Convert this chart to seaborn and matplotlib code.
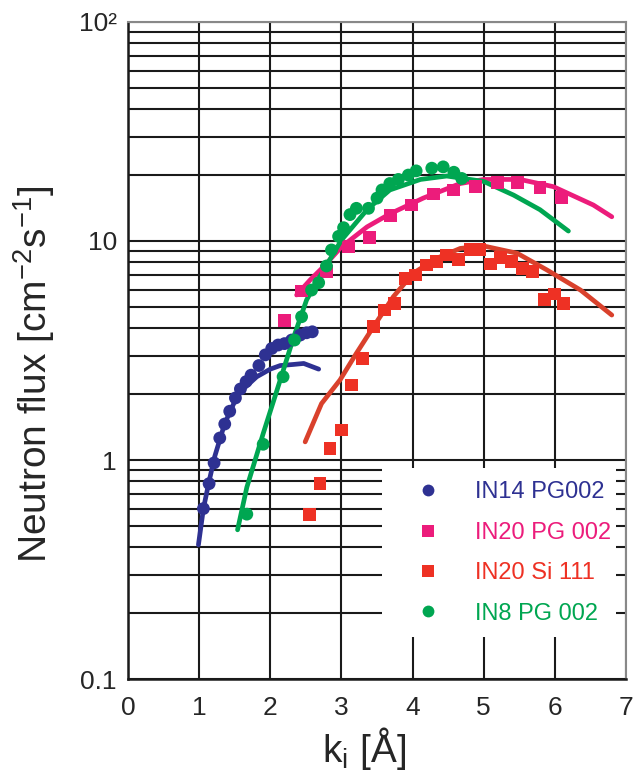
import seaborn as sns
import pandas as pd
import matplotlib.pyplot as plt
from matplotlib.lines import Line2D
from matplotlib.patches import Rectangle
from matplotlib.ticker import LogLocator, FixedLocator, FixedFormatter, NullFormatter

# IN14 PG002 - puntos medidos
in14_k = [1.06, 1.14, 1.21, 1.29, 1.36, 1.43, 1.51, 1.58, 1.66, 1.73, 1.84, 1.93,
          2.02, 2.11, 2.20, 2.30, 2.42, 2.51, 2.59]
in14_flux = [0.60, 0.78, 0.97, 1.26, 1.46, 1.67, 1.92, 2.11, 2.28, 2.44, 2.70, 3.02,
             3.23, 3.35, 3.40, 3.53, 3.72, 3.81, 3.85]
# IN14 - curva calculada
in14_fit_k = [0.99, 1.06, 1.14, 1.22, 1.36, 1.55, 1.81, 2.00, 2.14, 2.32, 2.47, 2.68]
in14_fit_flux = [0.41, 0.60, 0.80, 1.04, 1.47, 2.01, 2.40, 2.60, 2.70, 2.73, 2.76, 2.60]

# IN20 PG 002
in20pg_k = [2.20, 2.44, 2.79, 3.10, 3.39, 3.69, 3.99, 4.29, 4.58, 4.88, 5.19, 5.48,
            5.79, 6.09]
in20pg_flux = [4.33, 5.91, 7.24, 9.42, 10.4, 13.1, 14.6, 16.4, 17.1, 17.7, 18.5, 18.5,
               17.6, 15.8]
in20pg_fit_k = [2.37, 2.56, 2.75, 3.00, 3.36, 3.68, 4.15, 4.67, 5.00, 5.51, 5.98, 6.54, 6.80]
in20pg_fit_flux = [5.67, 6.64, 7.64, 9.4, 11.6, 13.3, 15.7, 18.3, 19.1, 19.1, 17.7, 14.6, 12.9]

# IN20 Si 111
in20si_k = [2.55, 2.70, 2.84, 3.00, 3.14, 3.30, 3.45, 3.60, 3.75, 3.90, 4.04, 4.20,
            4.34, 4.48, 4.65, 4.81, 4.94, 5.09, 5.24, 5.39, 5.55, 5.69, 5.85, 5.99, 6.12]
in20si_flux = [0.566, 0.78, 1.13, 1.37, 2.20, 2.91, 4.06, 4.84, 5.19, 6.76, 7.0, 7.77,
               8.05, 8.63, 8.25, 9.16, 9.16, 7.85, 8.42, 8.05, 7.5, 7.24, 5.42, 5.73, 5.19]
in20si_fit_k = [2.49, 2.72, 2.98, 3.21, 3.45, 3.73, 4.01, 4.34, 4.67, 5.00, 5.47, 5.89,
                6.36, 6.80]
in20si_fit_flux = [1.21, 1.81, 2.32, 3.07, 4.06, 5.57, 7.13, 8.34, 9.25, 9.49, 8.79, 7.37,
                   5.97, 4.59]

# IN8 PG 002
in8_k = [1.67, 1.90, 2.18, 2.34, 2.44, 2.58, 2.68, 2.79, 2.86, 2.96, 3.03, 3.12, 3.21,
         3.38, 3.50, 3.57, 3.68, 3.80, 3.94, 4.05, 4.27, 4.43, 4.58, 4.69]
in8_flux = [0.566, 1.18, 2.40, 3.53, 4.51, 5.97, 6.45, 7.69, 9.1, 10.5, 11.5, 13.2, 14.1,
            14.1, 15.7, 17.1, 18.3, 19.1, 20.0, 20.9, 21.5, 21.8, 20.6, 19.3]
in8_fit_k = [1.54, 1.67, 1.90, 2.14, 2.33, 2.51, 2.75, 3.00, 3.36, 3.68, 4.11, 4.48, 5.00,
             5.42, 5.79, 6.19]
in8_fit_flux = [0.48, 0.75, 1.32, 2.32, 3.65, 5.38, 7.37, 10.1, 13.9, 17.1, 19.1, 19.8,
                18.7, 16.2, 13.9, 11.1]

series = [
    ("IN14 PG002", in14_k, in14_flux, in14_fit_k, in14_fit_flux, "o", "#2e3192", "#2e3192"),
    ("IN20 PG 002", in20pg_k, in20pg_flux, in20pg_fit_k, in20pg_fit_flux, "s", "#ec1c7b", "#ec1c7b"),
    ("IN20 Si 111", in20si_k, in20si_flux, in20si_fit_k, in20si_fit_flux, "s", "#ee3124", "#d9412c"),
    ("IN8 PG 002", in8_k, in8_flux, in8_fit_k, in8_fit_flux, "o", "#00a651", "#00a651"),
]

sns.set_style("white")
plt.rcParams['font.family'] = ['Liberation Sans', 'DejaVu Sans']
plt.rcParams['mathtext.default'] = 'regular'

fig = plt.figure(figsize=(6.33, 7.77), dpi=100)
ax = fig.add_axes([0.2022, 0.1261, 0.7868, 0.8456])

for nombre, k, f, kf, ff, marca, color, color_linea in series:
    df_fit = pd.DataFrame({'k': kf, 'flux': ff})
    sns.lineplot(data=df_fit, x='k', y='flux', color=color_linea, lw=3.4,
                 sort=False, estimator=None, ax=ax, zorder=3)
for nombre, k, f, kf, ff, marca, color, color_linea in series:
    df = pd.DataFrame({'k': k, 'flux': f})
    sns.scatterplot(data=df, x='k', y='flux', marker=marca, color=color, s=85,
                    edgecolor='none', linewidth=0, ax=ax, zorder=4)

ax.set_yscale('log')
ax.set_xlim(0, 7)
ax.set_ylim(0.1, 100)

ax.xaxis.set_major_locator(FixedLocator(range(8)))
ax.yaxis.set_major_locator(FixedLocator([0.1, 1, 10, 100]))
ax.yaxis.set_major_formatter(FixedFormatter(['0.1', '1', '10', '10²']))
ax.yaxis.set_minor_locator(LogLocator(base=10, subs=range(2, 10)))
ax.yaxis.set_minor_formatter(NullFormatter())

ax.grid(True, which='both', axis='both', color='#1a1a1a', lw=1.5)
ax.tick_params(axis='both', which='both', length=0, labelsize=19, pad=8)
ax.tick_params(axis='x', pad=12)

for lado in ['left', 'bottom']:
    ax.spines[lado].set_color('#1a1a1a')
    ax.spines[lado].set_linewidth(1.8)
for lado in ['right', 'top']:
    ax.spines[lado].set_color('#888888')
    ax.spines[lado].set_linewidth(1.5)

# caja blanca para la leyenda
ax.add_patch(Rectangle((0.510, 0.064), 0.470, 0.257, transform=ax.transAxes,
                       facecolor='white', edgecolor='none', zorder=2.5))

handles = [Line2D([], [], ls='none', marker=m, color=c, markersize=8.5, markeredgewidth=0)
           for _, _, _, _, _, m, c, _ in series]
etiquetas = [s[0] for s in series]
leg = ax.legend(handles, etiquetas, loc='upper left', bbox_to_anchor=(0.56, 0.315),
                frameon=False, fontsize=17, handlelength=1.0, handletextpad=1.5,
                labelspacing=0.78, borderaxespad=0)
for texto, s in zip(leg.get_texts(), series):
    texto.set_color(s[6])
leg.set_zorder(5)

ax.set_xlabel('k$_i$ [Å]', fontsize=28)
ax.set_ylabel('Neutron flux [cm$^{-2}$s$^{-1}$]', fontsize=28)
ax.xaxis.set_label_coords(0.475, -0.07)
ax.yaxis.set_label_coords(-0.143, 0.463)

plt.savefig('out.png', dpi=100)
plt.close()
